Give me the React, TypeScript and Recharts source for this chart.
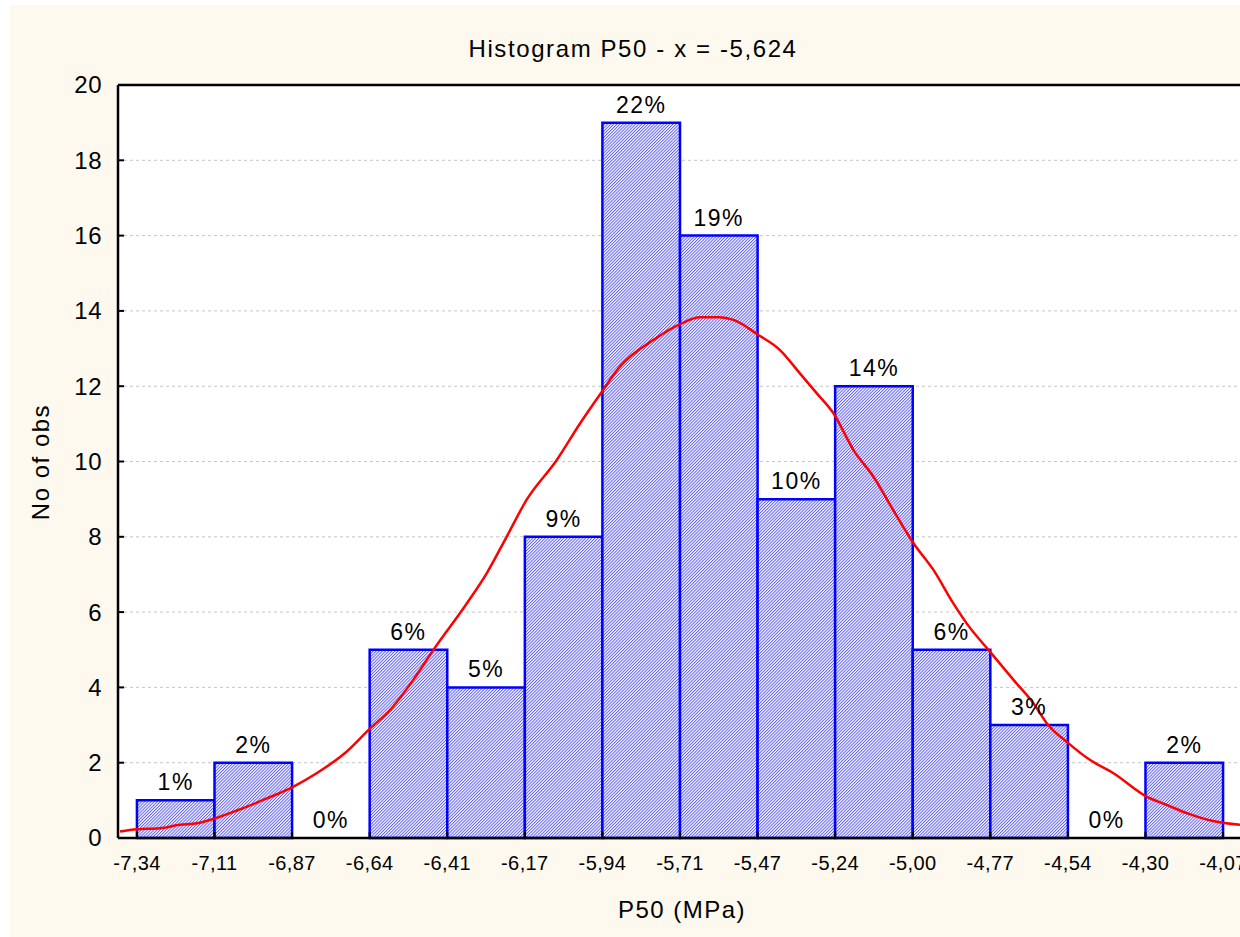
import { CartesianGrid, ComposedChart, Line, ReferenceArea, XAxis, YAxis } from 'recharts';

// bin edges (P50, MPa) as shown on the x axis
const binEdges = [
  -7.34, -7.1064, -6.8729, -6.6393, -6.4057, -6.1721, -5.9386, -5.705,
  -5.4714, -5.2379, -5.0043, -4.7707, -4.5371, -4.3036, -4.07
];
const edgeLabels = [
  '-7,34', '-7,11', '-6,87', '-6,64', '-6,41', '-6,17', '-5,94', '-5,71',
  '-5,47', '-5,24', '-5,00', '-4,77', '-4,54', '-4,30', '-4,07'
];
const binCounts = [1, 2, 0, 5, 4, 8, 19, 16, 9, 12, 5, 3, 0, 2];
const binPercents = ['1%', '2%', '0%', '6%', '5%', '9%', '22%', '19%', '10%', '14%', '6%', '3%', '0%', '2%'];
const yTicks = [0, 2, 4, 6, 8, 10, 12, 14, 16, 18, 20];
const xRange = [-7.397, -4.013];

// expected normal curve
const curveX = [
  -7.391, -7.34, -7.271, -7.211, -7.159, -7.105, -7.039, -6.949, -6.87, -6.799,
  -6.709, -6.638, -6.578, -6.508, -6.448, -6.347, -6.287, -6.227, -6.167, -6.076,
  -6.006, -5.946, -5.886, -5.785, -5.7, -5.645, -5.585, -5.544, -5.469, -5.404,
  -5.344, -5.293, -5.243, -5.183, -5.123, -5.063, -5.002, -4.942, -4.882, -4.842,
  -4.772, -4.701, -4.641, -4.601, -4.536, -4.47, -4.4, -4.3, -4.24, -4.179,
  -4.1, -4.019
];
const curveY = [
  0.17, 0.23, 0.26, 0.35, 0.39, 0.52, 0.73, 1.05, 1.36, 1.72,
  2.29, 2.91, 3.4, 4.2, 4.99, 6.23, 7.03, 8.0, 8.98, 10.04,
  11.01, 11.78, 12.52, 13.23, 13.67, 13.83, 13.83, 13.76, 13.36, 12.96,
  12.34, 11.81, 11.28, 10.31, 9.6, 8.71, 7.83, 7.12, 6.23, 5.7,
  4.95, 4.2, 3.58, 3.05, 2.52, 2.07, 1.72, 1.1, 0.88, 0.66,
  0.45, 0.35
];

const font = '"Liberation Sans", Arial, sans-serif';
const curveData = curveX.map((x, i) => ({ x, y: curveY[i] }));

const BottomTick = (props: any) => {
  const { x, y, payload } = props;
  const idx = binEdges.indexOf(payload.value);
  return (
    <g>
      <line x1={x} x2={x} y1={y - 25} y2={y - 31} stroke="#000" strokeWidth={2} />
      <text x={x} y={y} dy="0.35em" textAnchor="middle" fontSize={20} letterSpacing={0.4} fontFamily={font} fill="#000">
        {edgeLabels[idx]}
      </text>
    </g>
  );
};

const TopTick = (props: any) => {
  const { x, y } = props;
  return <line x1={x} x2={x} y1={y} y2={y + 6} stroke="#000" strokeWidth={2} />;
};

const LeftTick = (props: any) => {
  const { x, y, payload } = props;
  return (
    <g>
      <line x1={x + 16} x2={x + 22} y1={y} y2={y} stroke="#000" strokeWidth={2} />
      <text x={x} y={y} dy="0.35em" textAnchor="end" fontSize={24} letterSpacing={0.5} fontFamily={font} fill="#000">
        {payload.value}
      </text>
    </g>
  );
};

const RightTick = (props: any) => {
  const { x, y } = props;
  return <line x1={x} x2={x - 6} y1={y} y2={y} stroke="#000" strokeWidth={2} />;
};

const App = () => {
  return (
    <div style={{ position: 'absolute', left: 0, top: 0, width: 1240, height: 937, overflow: 'hidden', background: '#fff' }}>
      <div style={{ position: 'absolute', left: 10, top: 5, width: 1230, height: 932, background: '#fef9ee' }} />
      <div style={{ position: 'absolute', left: 0, top: 0 }}>
        <ComposedChart width={1260} height={937} margin={{ top: 84, right: 17, bottom: 0, left: 0 }}>
          <defs>
            <pattern id="hatch" patternUnits="userSpaceOnUse" width={2.2} height={2.2} patternTransform="rotate(45)">
              <rect x={0} y={0} width={2.2} height={2.2} fill="#f4f4ff" />
              <rect x={0} y={0} width={0.9} height={2.2} fill="#5c5cf6" />
            </pattern>
          </defs>
          <CartesianGrid vertical={false} stroke="#c6c6c6" strokeDasharray="3 3" fill="#fff" />
          <XAxis
            dataKey="x"
            type="number"
            domain={xRange}
            ticks={binEdges}
            allowDataOverflow
            height={99}
            tickSize={0}
            tickMargin={25}
            tick={BottomTick}
            axisLine={{ stroke: '#000', strokeWidth: 2.5 }}
          />
          <XAxis
            xAxisId="top"
            orientation="top"
            type="number"
            domain={xRange}
            ticks={binEdges}
            allowDataOverflow
            height={1}
            tickSize={0}
            tickMargin={0}
            tick={TopTick}
            axisLine={{ stroke: '#000', strokeWidth: 2.5 }}
          />
          <YAxis
            type="number"
            domain={[0, 20]}
            ticks={yTicks}
            width={118}
            tickSize={0}
            tickMargin={16}
            tick={LeftTick}
            axisLine={{ stroke: '#000', strokeWidth: 2.5 }}
          />
          <YAxis
            yAxisId="right"
            orientation="right"
            type="number"
            domain={[0, 20]}
            ticks={yTicks}
            width={1}
            tickSize={0}
            tickMargin={0}
            tick={RightTick}
            axisLine={{ stroke: '#000', strokeWidth: 2.5 }}
          />
          {binCounts.map((count, i) => (
            <ReferenceArea
              key={i}
              x1={binEdges[i]}
              x2={binEdges[i + 1]}
              y1={0}
              y2={count}
              fill="url(#hatch)"
              fillOpacity={1}
              stroke="#0000ff"
              strokeWidth={2.5}
              ifOverflow="visible"
              label={{
                value: binPercents[i],
                position: 'top',
                offset: 10,
                fontSize: 23,
                letterSpacing: 1.5,
                fontFamily: font,
                fill: '#000'
              }}
            />
          ))}
          <Line
            data={curveData}
            dataKey="y"
            type="monotone"
            stroke="#ff0000"
            strokeWidth={2.5}
            dot={false}
            activeDot={false}
            isAnimationActive={false}
          />
        </ComposedChart>
      </div>
      <div style={{ position: 'absolute', left: 0, top: 36, width: 1266, textAlign: 'center', fontFamily: font, fontSize: 24, letterSpacing: 1.6, color: '#000', lineHeight: '26px' }}>
        Histogram P50 - x = -5,624
      </div>
      <div style={{ position: 'absolute', left: 560, top: 896, width: 244, textAlign: 'center', fontFamily: font, fontSize: 24, letterSpacing: 1.5, color: '#000', lineHeight: '28px' }}>
        P50 (MPa)
      </div>
      <div style={{ position: 'absolute', left: 41, top: 462, width: 0, height: 0 }}>
        <div style={{ position: 'absolute', left: -100, top: -14, width: 200, textAlign: 'center', transform: 'rotate(-90deg)', fontFamily: font, fontSize: 24, letterSpacing: 1.5, color: '#000', lineHeight: '28px', whiteSpace: 'nowrap' }}>
          No of obs
        </div>
      </div>
    </div>
  );
};

export default App;
